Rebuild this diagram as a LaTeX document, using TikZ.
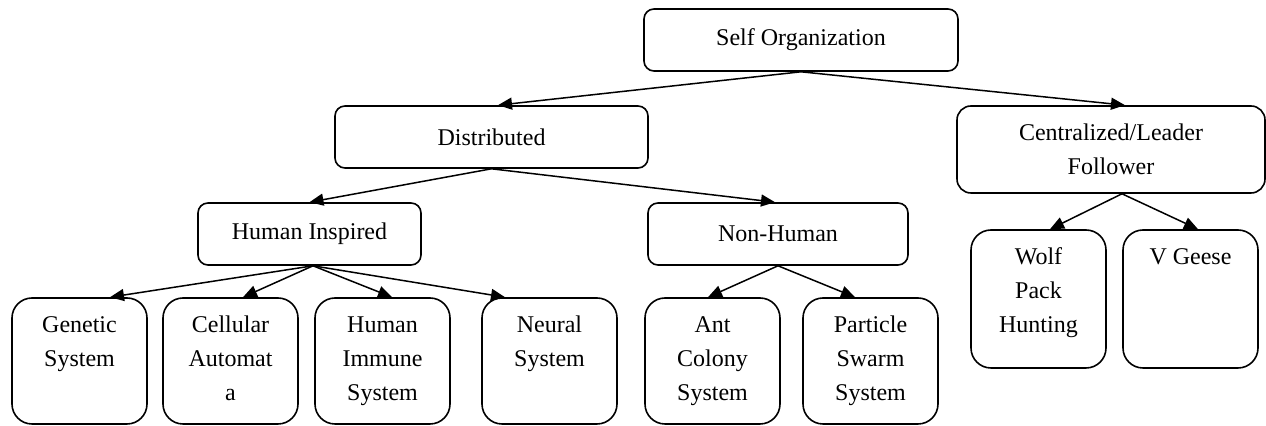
\documentclass[tikz,border=0pt]{standalone}
\usepackage{fontspec}
\setmainfont{Liberation Serif}
\usepackage{tikz}
\usetikzlibrary{arrows.meta}

\newcommand{\leaftext}[2]{\parbox[c][#1][t]{67.5pt}{\centering\rule{0pt}{17.5pt}#2}}

\begin{document}
\begin{tikzpicture}[x=0.5pt, y=-0.5pt,
    font=\fontsize{12}{17}\selectfont,
    box/.style={draw, line width=0.8pt, rounded corners=5pt, align=center, inner sep=0pt},
    leaf/.style={draw, line width=0.8pt, rounded corners=10pt, inner sep=0pt},
    link/.style={-{Triangle[length=7pt, width=6pt]}, line width=0.75pt}]
  \useasboundingbox (0, 0) rectangle (1266, 426);

  % upper levels
  \node[box, minimum width=157pt, minimum height=31pt] (self) at (801, 40) {Self Organization};
  \node[box, minimum width=156.5pt, minimum height=31pt] (dist) at (491.5, 137) {Distributed};
  \node[box, minimum width=154pt, minimum height=43.5pt, rounded corners=7pt] (cent) at (1111, 149.5) {Centralized/Leader\\Follower};
  \node[box, minimum width=111.5pt, minimum height=31pt] (human) at (309.5, 234) {Human Inspired};
  \node[box, minimum width=130pt, minimum height=31pt] (nonhuman) at (778, 234) {Non-Human};

  % leaves
  \node[leaf] (genetic) at (79.5, 361) {\leaftext{63pt}{Genetic\\System}};
  \node[leaf] (cellular) at (230.5, 361) {\leaftext{63pt}{Cellular\\Automat\\a}};
  \node[leaf] (immune) at (382.5, 361) {\leaftext{63pt}{Human\\Immune\\System}};
  \node[leaf] (neural) at (549.5, 361) {\leaftext{63pt}{Neural\\System}};
  \node[leaf] (ant) at (712.5, 361) {\leaftext{63pt}{Ant\\Colony\\System}};
  \node[leaf] (swarm) at (870.5, 361) {\leaftext{63pt}{Particle\\Swarm\\System}};
  \node[leaf] (wolf) at (1038.5, 299) {\leaftext{69pt}{Wolf\\Pack\\Hunting}};
  \node[leaf] (geese) at (1190.5, 299) {\leaftext{69pt}{V Geese}};

  % connectors
  \draw[link] (self.south) -- ([xshift=3.25pt]dist.north);
  \draw[link] (self.south) -- ([xshift=7pt]cent.north);
  \draw[link] (dist.south) -- (human.north);
  \draw[link] (dist.south) -- ([xshift=-1.5pt]nonhuman.north);

  \draw[link] ([xshift=1.75pt]human.south) -- ([xshift=15.25pt]genetic.north);
  \draw[link] ([xshift=1.75pt]human.south) -- ([xshift=6.25pt]cellular.north);
  \draw[link] ([xshift=1.75pt]human.south) -- ([xshift=4.75pt]immune.north);
  \draw[link] ([xshift=1.75pt]human.south) -- ([xshift=-22.25pt]neural.north);

  \draw[link] (nonhuman.south) -- ([xshift=-2.25pt]ant.north);
  \draw[link] (nonhuman.south) -- ([xshift=-7.75pt]swarm.north);

  \draw[link] ([xshift=5.5pt]cent.south) -- ([xshift=5.75pt]wolf.north);
  \draw[link] ([xshift=5.5pt]cent.south) -- ([xshift=3.75pt]geese.north);
\end{tikzpicture}
\end{document}
